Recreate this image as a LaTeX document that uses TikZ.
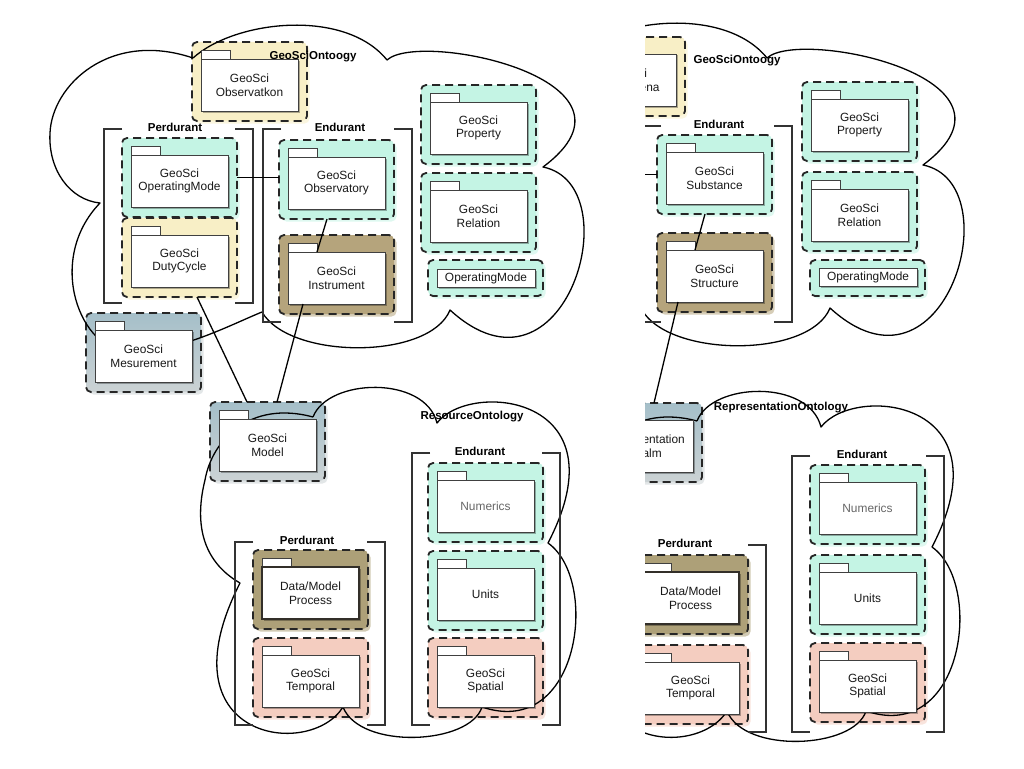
\documentclass[tikz,border=0pt]{standalone}
\usepackage{fontspec}
\setmainfont{Liberation Sans}
\usetikzlibrary{shadows,calc}
\definecolor{pkcyan}{HTML}{C4F4E4}
\definecolor{pkyel}{HTML}{F8EFC6}
\definecolor{pktan}{HTML}{B5A47C}
\definecolor{pkolive}{HTML}{ADA078}
\definecolor{pkblueA}{HTML}{A5BFC9}
\definecolor{pkblueB}{HTML}{CBD2D4}
\definecolor{pksal}{HTML}{F4CDC0}
\newcommand\PkgFont{\fontsize{11.9}{13.8}\selectfont}
\newcommand\LabFont{\fontsize{11.5}{13.5}\selectfont\bfseries}
\tikzset{
 glow/.style={fill=#1, drop shadow={shadow xshift=2.5pt, shadow yshift=-2.5pt, fill=#1, opacity=0.55}},
 pkblue/.style={top color=pkblueA, bottom color=pkblueB, drop shadow={shadow xshift=2.5pt, shadow yshift=-2.5pt, fill=pkblueB, opacity=0.55}},
 pkgout/.style={draw=black!85, line width=1.8pt, dash pattern=on 8pt off 5pt, rounded corners=5pt, minimum width=115pt, minimum height=79pt, inner sep=0pt, outer sep=0pt, anchor=north west},
 pkgsmall/.style={pkgout, minimum height=36pt},
 pkgbox/.style={draw=black!75, line width=0.8pt, fill=white, minimum width=97pt, minimum height=52pt, inner sep=1pt, outer sep=0pt, align=center, font=\PkgFont, text=black!90, anchor=north west, drop shadow={shadow xshift=1.5pt, shadow yshift=-1.5pt, opacity=0.3, fill=black}},
 pkgsbox/.style={pkgbox, minimum width=98pt, minimum height=18pt},
 pkgtab/.style={draw=black!75, line width=0.8pt, fill=white, minimum width=29pt, minimum height=9pt, inner sep=0pt, outer sep=0pt, anchor=south west},
 darkbox/.style={draw=black!85!olive, line width=1.6pt},
 greytext/.style={text=black!60},
 brk/.style={draw=black!80, line width=1.8pt},
 brklabel/.style={font=\LabFont, inner sep=1pt},
 title/.style={font=\LabFont, inner sep=1pt},
 cloudline/.style={draw=black, line width=1.3pt, line join=round},
 conn/.style={draw=black, line width=1.3pt},
}
\newcommand\PkgB[5]{%
  \node[pkgtab] (t#1) at ({#2+9},{#3+17}) {};
  \node[pkgbox,#5] (b#1) at ({#2+9},{#3+17}) {#4};}
\newcommand\Brk[7]{%
  \draw[brk] ({#2+18},#3) -- (#2,#3) -- (#2,#5) -- ({#2+18},#5);
  \draw[brk] ({#4-18},#3) -- (#4,#3) -- (#4,#5) -- ({#4-18},#5);
  \node[brklabel] (#1) at (#7,{#3-2}) {#6};}
\newcommand\CloudTop{(193,58) .. controls (235,20) and (345,8) .. (387,60)
 .. controls (420,30) and (660,80) .. (543,167)
 .. controls (632,185) and (565,415) .. (450,310)
 .. controls (430,360) and (290,360) .. (262,312)
 .. controls (230,325) and (180,352) .. (130,352)
 .. controls (80,352) and (45,260) .. (100,203)
 .. controls (70,200) and (48,170) .. (50,133)
 .. controls (52,85) and (110,30) .. (193,58)}
\newcommand\CloudBot{(313,417) .. controls (328,378) and (425,375) .. (437,423)
 .. controls (470,380) and (625,395) .. (548,543)
 .. controls (600,580) and (580,740) .. (482,707)
 .. controls (470,745) and (360,750) .. (343,707)
 .. controls (310,760) and (160,740) .. (240,583)
 .. controls (200,560) and (195,520) .. (205,480)
 .. controls (212,440) and (250,400) .. (313,417)}
\begin{document}
\begin{tikzpicture}[x=1pt,y=-1pt]
\useasboundingbox (0,0) rectangle (1024,768);
\fill[white] (0,0) rectangle (1024,768);
% ---------------- left panel ----------------
\node[pkgout, glow=pkyel] (oObs) at (192,42) {};
\node[pkgout, glow=pkcyan] (oOpm) at (122,138) {};
\node[pkgout, glow=pkyel] (oDuty) at (122,218) {};
\node[pkgout, glow=pkcyan] (oObsy) at (279,140) {};
\node[pkgout, glow=pktan] (oInst) at (279,235) {};
\node[pkgout, glow=pkcyan] (oProp) at (421,85) {};
\node[pkgout, glow=pkcyan] (oRel) at (421,173) {};
\node[pkgsmall, glow=pkcyan] (oOM) at (428,260) {};
\node[pkgout, pkblue] (oMes) at (86,313) {};
\node[pkgout, pkblue] (oModel) at (210,402) {};
\node[pkgout, glow=pkolive] (oDMP) at (253,550) {};
\node[pkgout, glow=pksal] (oTemp) at (253,638) {};
\node[pkgout, glow=pkcyan] (oNum) at (428,463) {};
\node[pkgout, glow=pkcyan] (oUnits) at (428,551) {};
\node[pkgout, glow=pksal] (oSpat) at (428,638) {};
\draw[cloudline] \CloudTop;
\draw[cloudline] \CloudBot;
\Brk{lPer1}{104}{129}{253}{303}{Perdurant}{175}
\Brk{lEnd1}{263}{129}{412}{322}{Endurant}{340}
\Brk{lPer2}{235}{542}{385}{725}{Perdurant}{307}
\Brk{lEnd2}{412}{453}{560}{725}{Endurant}{480}
\PkgB{Obs}{192}{42}{GeoSci\\Observatkon}{}
\PkgB{Opm}{122}{138}{GeoSci\\OperatingMode}{}
\PkgB{Duty}{122}{218}{GeoSci\\DutyCycle}{}
\PkgB{Obsy}{279}{140}{GeoSci\\Observatory}{}
\PkgB{Inst}{279}{235}{GeoSci\\Instrument}{}
\PkgB{Prop}{421}{85}{GeoSci\\Property}{}
\PkgB{Rel}{421}{173}{GeoSci\\Relation}{}
\node[pkgsbox] (bOM) at (437,269) {OperatingMode};
\PkgB{Mes}{86}{313}{GeoSci\\Mesurement}{}
\PkgB{Model}{210}{402}{GeoSci\\Model}{}
\PkgB{DMP}{253}{550}{Data/Model\\Process}{darkbox}
\PkgB{Temp}{253}{638}{GeoSci\\Temporal}{}
\PkgB{Num}{428}{463}{Numerics}{greytext}
\PkgB{Units}{428}{551}{Units}{}
\PkgB{Spat}{428}{638}{GeoSci\\Spatial}{}
\draw[conn] (oOpm.east) -- (oOpm.east -| oObsy.west);
\draw[conn] ([xshift=-9.5pt]oObsy.south) -- ([xshift=-19.5pt]bInst.north);
\draw[conn] ([xshift=-33.5pt]bInst.south) -- ([xshift=9.5pt]oModel.north);
\draw[conn] ([xshift=17.5pt]oDuty.south) -- ([xshift=-20.5pt]oModel.north);
\node[title] (ttGeo) at (313,57) {GeoSciOntoogy};
\node[title] (ttRes) at (472,417) {ResourceOntology};
% ---------------- right panel ----------------
\begin{scope}
\clip (645,0) rectangle (1024,768);
\node[pkgout, glow=pkyel] (oPhen) at (570,37) {};
\node[pkgout, glow=pkcyan] (oSubst) at (657,135) {};
\node[pkgout, glow=pktan] (oStruct) at (657,233) {};
\node[pkgout, glow=pkcyan] (oPropR) at (802,82) {};
\node[pkgout, glow=pkcyan] (oRelR) at (802,172) {};
\node[pkgsmall, glow=pkcyan] (oOMR) at (810,260) {};
\node[pkgout, pkblue] (oRealm) at (587,403) {};
\node[pkgout, glow=pkolive] (oDMPR) at (633,555) {};
\node[pkgout, glow=pksal] (oTempR) at (633,645) {};
\node[pkgout, glow=pkcyan] (oNumR) at (810,465) {};
\node[pkgout, glow=pkcyan] (oUnitsR) at (810,555) {};
\node[pkgout, glow=pksal] (oSpatR) at (810,643) {};
\begin{scope}[shift={(380,-2)}]
\draw[cloudline] \CloudTop;
\end{scope}
\begin{scope}[shift={(384,4)}]
\draw[cloudline] \CloudBot;
\end{scope}
\Brk{lEndR1}{643}{126}{792}{322}{Endurant}{719}
\Brk{lPerR2}{616}{545}{766}{732}{Perdurant}{685}
\Brk{lEndR2}{792}{456}{944}{732}{Endurant}{862}
\PkgB{Phen}{568}{37}{GeoSci\\Phenomena}{xshift=2pt}
\PkgB{Subst}{657}{135}{GeoSci\\Substance}{}
\PkgB{Struct}{657}{233}{GeoSci\\Structure}{}
\PkgB{PropR}{802}{82}{GeoSci\\Property}{}
\PkgB{RelR}{802}{172}{GeoSci\\Relation}{}
\node[pkgsbox] (bOMR) at (819,268) {OperatingMode};
\PkgB{Realm}{587}{403}{Representation\\Realm}{}
\PkgB{DMPR}{633}{555}{Data/Model\\Process}{darkbox}
\PkgB{TempR}{633}{645}{GeoSci\\Temporal}{}
\PkgB{NumR}{810}{465}{Numerics}{greytext}
\PkgB{UnitsR}{810}{555}{Units}{}
\PkgB{SpatR}{810}{643}{GeoSci\\Spatial}{}
\coordinate (cutR) at (630,174.5);
\draw[conn] (cutR) -- (oSubst.west);
\draw[conn] ([xshift=-9.5pt]oSubst.south) -- ([xshift=-19.5pt]bStruct.north);
\draw[conn] ([xshift=-36.5pt]bStruct.south) -- ([xshift=9.5pt]oRealm.north);
\node[title] (ttGeoR) at (737,61) {GeoSciOntoogy};
\node[title] (ttRep) at (781,408) {RepresentationOntology};
\end{scope}
\end{tikzpicture}
\end{document}
